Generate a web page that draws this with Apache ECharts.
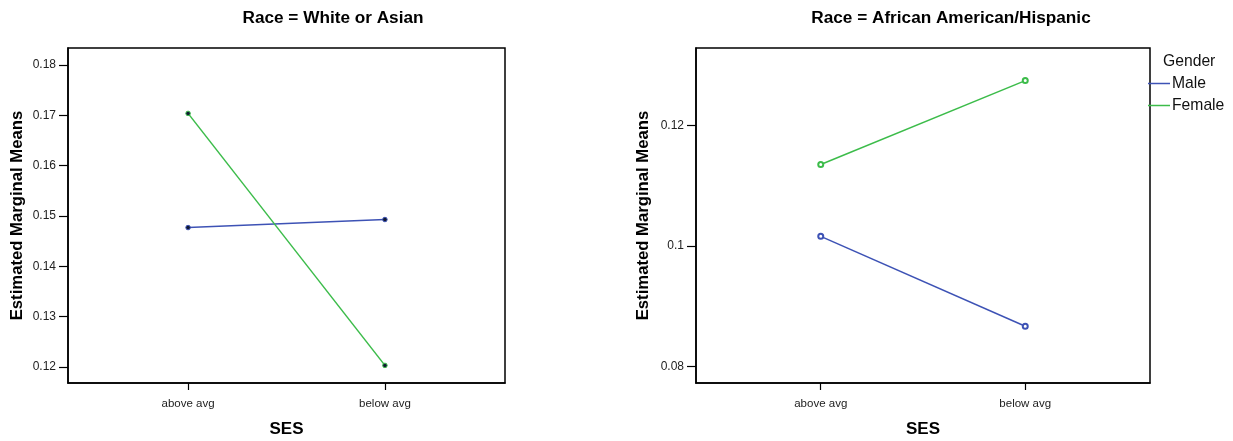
<!DOCTYPE html>
<html>
<head>
<meta charset="utf-8">
<script src="https://cdn.jsdelivr.net/npm/echarts@6/dist/echarts.min.js"></script>
<style>
  html, body { margin: 0; padding: 0; background: #fff; }
  #chart { width: 1233px; height: 441px; }
</style>
</head>
<body>
<div id="chart"></div>
<script>
// categories (SES)
const sesLevels = ['above avg', 'below avg']
const genders = ['Male', 'Female']

// Race = White or Asian
const whiteMale = [0.1477, 0.1493]
const whiteFemale = [0.1704, 0.1203]
const whiteTicks = [0.12, 0.13, 0.14, 0.15, 0.16, 0.17, 0.18]
const whiteTickLabels = ['0.12', '0.13', '0.14', '0.15', '0.16', '0.17', '0.18']

// Race = African American/Hispanic
const aaMale = [0.1016, 0.0867]
const aaFemale = [0.1135, 0.1274]
const aaTicks = [0.08, 0.1, 0.12]
const aaTickLabels = ['0.08', '0.1', '0.12']

const BLUE = '#3d52b5'
const GREEN = '#3cbc4a'
const FONT = 'Liberation Sans, Arial, sans-serif'

const chart = echarts.init(document.getElementById('chart'))

function toPoints(vals) {
  return vals.map((v, i) => [i, v])
}

function xAxisFor(gridIndex) {
  return {
    type: 'value',
    gridIndex: gridIndex,
    min: -0.61,
    max: 1.61,
    name: 'SES',
    nameLocation: 'middle',
    nameGap: 38,
    nameTextStyle: { fontFamily: FONT, fontSize: 17, fontWeight: 'bold', color: '#000' },
    splitLine: { show: false },
    axisLine: { show: true, onZero: false, lineStyle: { color: '#000', width: 1.5 } },
    axisTick: { show: true, length: 7, customValues: [0, 1], lineStyle: { color: '#000', width: 1.2 } },
    axisLabel: {
      customValues: [0, 1],
      margin: 15,
      fontFamily: FONT,
      fontSize: 11.5,
      color: '#222',
      formatter: v => sesLevels[Math.round(v)]
    }
  }
}

function yAxisFor(gridIndex, min, max, ticks, labels, gap) {
  return {
    type: 'value',
    gridIndex: gridIndex,
    min: min,
    max: max,
    name: 'Estimated Marginal Means',
    nameLocation: 'middle',
    nameGap: gap,
    nameTextStyle: { fontFamily: FONT, fontSize: 16.7, fontWeight: 'bold', color: '#000' },
    splitLine: { show: false },
    axisLine: { show: true, onZero: false, lineStyle: { color: '#000', width: 1.5 } },
    axisTick: { show: true, length: 9, customValues: ticks, lineStyle: { color: '#000', width: 1.2 } },
    axisLabel: {
      customValues: ticks,
      margin: 12,
      fontFamily: FONT,
      fontSize: 12,
      color: '#222',
      formatter: v => {
        const i = ticks.findIndex(t => Math.abs(t - v) < 1e-9)
        return i >= 0 ? labels[i] : ''
      }
    }
  }
}

function lineSeries(name, color, data, idx, hollow) {
  return {
    name: name,
    type: 'line',
    xAxisIndex: idx,
    yAxisIndex: idx,
    data: toPoints(data),
    symbol: hollow ? 'emptyCircle' : 'circle',
    symbolSize: hollow ? 5 : 4.5,
    showAllSymbol: true,
    lineStyle: { color: color, width: 1.5 },
    itemStyle: hollow
      ? { color: color, borderColor: color, borderWidth: 1.2 }
      : { color: '#111a33', borderColor: color, borderWidth: 1 },
    emphasis: { disabled: true },
    animation: false
  }
}

chart.setOption({
  backgroundColor: '#fff',
  animation: false,
  graphic: [
    {
      type: 'text', x: 333, y: 18,
      style: { text: 'Race = White or Asian', textAlign: 'center', textVerticalAlign: 'middle', fontFamily: FONT, fontSize: 17.2, fontWeight: 'bold', fill: '#000' }
    },
    {
      type: 'text', x: 951, y: 18,
      style: { text: 'Race = African American/Hispanic', textAlign: 'center', textVerticalAlign: 'middle', fontFamily: FONT, fontSize: 17.2, fontWeight: 'bold', fill: '#000' }
    },
    {
      type: 'text', x: 1163, y: 61.5,
      style: { text: 'Gender', textAlign: 'left', textVerticalAlign: 'middle', fontFamily: FONT, fontSize: 15.7, fill: '#111' }
    }
  ],
  legend: {
    data: [
      { name: genders[0], itemStyle: { color: BLUE, borderWidth: 0 } },
      { name: genders[1], itemStyle: { color: GREEN, borderWidth: 0 } }
    ],
    orient: 'vertical',
    left: 1143,
    top: 70,
    icon: 'rect',
    itemWidth: 22,
    itemHeight: 1.5,
    itemGap: 5,
    textStyle: { fontFamily: FONT, fontSize: 15.7, lineHeight: 17, color: '#111', padding: [0, 0, 0, -3] },
    selectedMode: false
  },
  grid: [
    { left: 68, right: 728, top: 48, bottom: 58, outerBoundsMode: 'none', show: true, borderColor: '#000', borderWidth: 1.5 },
    { left: 696, right: 83, top: 48, bottom: 58, outerBoundsMode: 'none', show: true, borderColor: '#000', borderWidth: 1.5 }
  ],
  xAxis: [xAxisFor(0), xAxisFor(1)],
  yAxis: [
    yAxisFor(0, 0.1168, 0.1834, whiteTicks, whiteTickLabels, 42),
    yAxisFor(1, 0.0773, 0.1328, aaTicks, aaTickLabels, 44)
  ],
  series: [
    lineSeries('Male', BLUE, whiteMale, 0, false),
    lineSeries('Female', GREEN, whiteFemale, 0, false),
    lineSeries('Male', BLUE, aaMale, 1, true),
    lineSeries('Female', GREEN, aaFemale, 1, true)
  ]
})
</script>
</body>
</html>
